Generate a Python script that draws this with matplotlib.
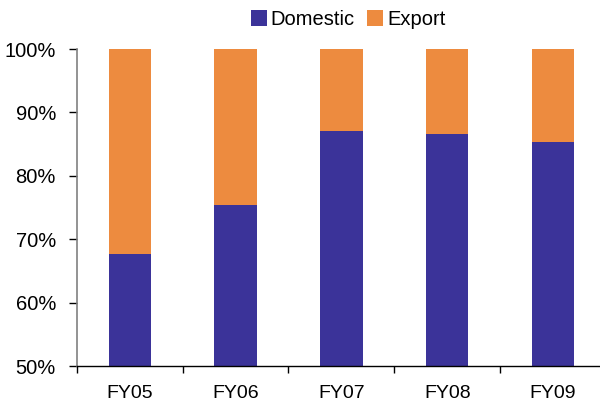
import matplotlib.pyplot as plt
import numpy as np

plt.rcParams['font.family'] = ['Liberation Sans', 'DejaVu Sans']

years = ['FY05', 'FY06', 'FY07', 'FY08', 'FY09']
domestic = [67.7, 75.4, 87.0, 86.6, 85.4]
export = [100 - d for d in domestic]
yticks = [50, 60, 70, 80, 90, 100]

blue = '#3B3399'
orange = '#ED8B3F'

fig = plt.figure(figsize=(6, 4.09), dpi=100)
ax = fig.add_axes([0.128, 0.105, 0.882, 0.775])

x = np.arange(len(years))
ax.bar(x, domestic, width=0.4, color=blue, label='Domestic')
ax.bar(x, export, width=0.4, bottom=domestic, color=orange, label='Export')

ax.set_xlim(-0.5, len(years) - 0.5)
ax.set_ylim(50, 100)
ax.set_yticks(yticks)
ax.set_yticklabels(['%d%%' % v for v in yticks], fontsize=14.5)
ax.set_xticks(x)
ax.set_xticklabels(years, fontsize=14)
ax.tick_params(axis='x', which='major', length=0, pad=14)
ax.set_xticks(np.arange(-0.5, len(years), 1), minor=True)
ax.tick_params(axis='x', which='minor', length=5, width=1, color='black', direction='out')
ax.tick_params(axis='y', length=6, width=1, color='black', direction='out', pad=9)

for s in ['top', 'right']:
    ax.spines[s].set_visible(False)
ax.spines['left'].set_color('#808080')
ax.spines['left'].set_linewidth(1.2)
ax.spines['bottom'].set_color('black')
ax.spines['bottom'].set_linewidth(1)

fig.legend(loc='upper center', bbox_to_anchor=(0.58, 1.02), ncol=2, frameon=False,
           fontsize=14.5, handlelength=0.8, handleheight=0.8, handletextpad=0.2,
           columnspacing=0.6)

fig.savefig('out.png', dpi=100)
